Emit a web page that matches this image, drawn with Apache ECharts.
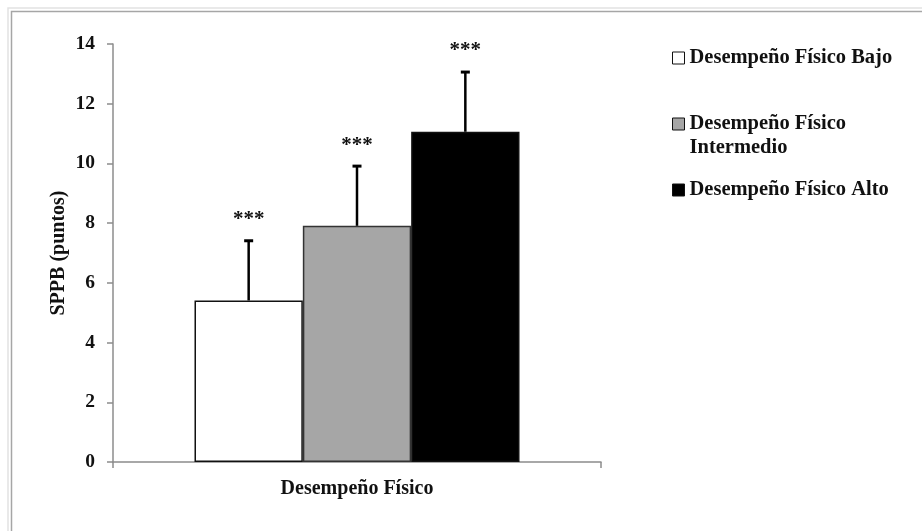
<!DOCTYPE html>
<html>
<head>
<meta charset="utf-8">
<script src="https://cdn.jsdelivr.net/npm/echarts@6/dist/echarts.min.js"></script>
<style>
html,body{margin:0;padding:0;background:#fff;}
#chart{width:922px;height:531px;}
</style>
</head>
<body>
<div id="chart"></div>
<script>
// ---- data ----
const categories = ['Desempeño Físico'];
const seriesNames = ['Desempeño Físico Bajo', 'Desempeño Físico Intermedio', 'Desempeño Físico Alto'];
const legendLabels = ['Desempeño Físico Bajo', 'Desempeño Físico\nIntermedio', 'Desempeño Físico Alto'];
const meanValues = [5.41, 7.91, 11.06];
const sdValues = [2.0, 2.0, 2.0];
const significance = ['***', '***', '***'];
const yTicks = [0, 2, 4, 6, 8, 10, 12, 14];

// ---- styles ----
const FONT = 'Liberation Serif';
const fills = ['#ffffff', '#a6a6a6', '#000000'];
const borders = ['#111111', '#333333', '#111111'];
const catGap = 0.334;
const axisGray = '#8c8c8c';

const chart = echarts.init(document.getElementById('chart'));

const barSeries = seriesNames.map((name, i) => ({
  name: name,
  type: 'bar',
  barGap: 0,
  barCategoryGap: (catGap * 100) + '%',
  data: [meanValues[i]],
  itemStyle: { color: fills[i], borderColor: borders[i], borderWidth: 1.5 },
  emphasis: { disabled: true },
  z: 2
}));

const errData = meanValues.map((m, i) => [0, m, sdValues[i], i]);

const errSeries = {
  type: 'custom',
  data: errData,
  encode: { x: 0, y: 1 },
  z: 5,
  silent: true,
  renderItem: function (params, api) {
    const k = api.value(3);
    const base = api.coord([api.value(0), api.value(1)]);
    const top = api.coord([api.value(0), api.value(1) + api.value(2)]);
    const band = api.size([1, 0])[0];
    const bw = band * (1 - catGap) / seriesNames.length;
    const x = base[0] + (k - (seriesNames.length - 1) / 2) * bw;
    const lineStyle = { stroke: '#000', lineWidth: 2.5 };
    return {
      type: 'group',
      children: [
        { type: 'line', shape: { x1: x, y1: base[1], x2: x, y2: top[1] }, style: lineStyle },
        { type: 'line', shape: { x1: x - 4.5, y1: top[1], x2: x + 4.5, y2: top[1] }, style: { stroke: '#000', lineWidth: 3 } },
        { type: 'text', x: x, y: top[1] - 21,
          style: { text: significance[k], fill: '#111', font: 'bold 21px "' + FONT + '"', align: 'center', verticalAlign: 'middle' } }
      ]
    };
  }
};

const legendBase = {
  orient: 'vertical',
  left: 672,
  padding: 0,
  itemWidth: 12,
  itemHeight: 12,
  selectedMode: false,
  textStyle: { fontFamily: FONT, fontWeight: 'bold', fontSize: 20.5, color: '#111', lineHeight: 24 },
  formatter: function (name) { return legendLabels[seriesNames.indexOf(name)]; }
};

const legendTops = [46, 112, 178];
const legends = seriesNames.map((name, i) => {
  const lg = Object.assign({}, legendBase, {
    top: legendTops[i],
    data: [{
      name: name,
      icon: i === 1 ? 'path://M0,0L10,0L10,10L0,10Z M0,30' : 'rect',
      itemStyle: { color: fills[i], borderColor: '#111', borderWidth: 1 }
    }]
  });
  if (i === 1) { lg.itemHeight = 36; }
  return lg;
});

const option = {
  backgroundColor: '#ffffff',
  animation: false,
  textStyle: { fontFamily: FONT },
  grid: { left: 113, right: 321, top: 44, bottom: 69, containLabel: false },
  legend: legends,
  xAxis: {
    type: 'category',
    data: categories,
    axisLine: { show: true, lineStyle: { color: axisGray, width: 1.5 } },
    axisTick: { show: true, length: 6, lineStyle: { color: axisGray, width: 1.5 } },
    axisLabel: { margin: 17, fontFamily: FONT, fontWeight: 'bold', fontSize: 20, color: '#111' },
    splitLine: { show: false }
  },
  yAxis: {
    type: 'value',
    min: yTicks[0],
    max: yTicks[yTicks.length - 1],
    interval: yTicks[1] - yTicks[0],
    name: 'SPPB (puntos)',
    nameLocation: 'middle',
    nameRotate: 90,
    nameGap: 44,
    nameMoveOverlap: false,
    nameTextStyle: { fontFamily: FONT, fontWeight: 'bold', fontSize: 20, color: '#111' },
    axisLine: { show: true, lineStyle: { color: axisGray, width: 1.5 } },
    axisTick: { show: true, length: 6, lineStyle: { color: axisGray, width: 1.5 } },
    axisLabel: { margin: 18, fontFamily: FONT, fontWeight: 'bold', fontSize: 19.5, color: '#111' },
    splitLine: { show: false }
  },
  graphic: [
    { type: 'rect', silent: true, z: -10, shape: { x: 8, y: 8, width: 940, height: 560 },
      style: { fill: 'none', stroke: '#e2e2e2', lineWidth: 1.5 } },
    { type: 'rect', silent: true, z: -10, shape: { x: 11.5, y: 11.5, width: 940, height: 560 },
      style: { fill: 'none', stroke: '#a6a6a6', lineWidth: 1.5 } }
  ],
  series: barSeries.concat([errSeries])
};

chart.setOption(option);
</script>
</body>
</html>
